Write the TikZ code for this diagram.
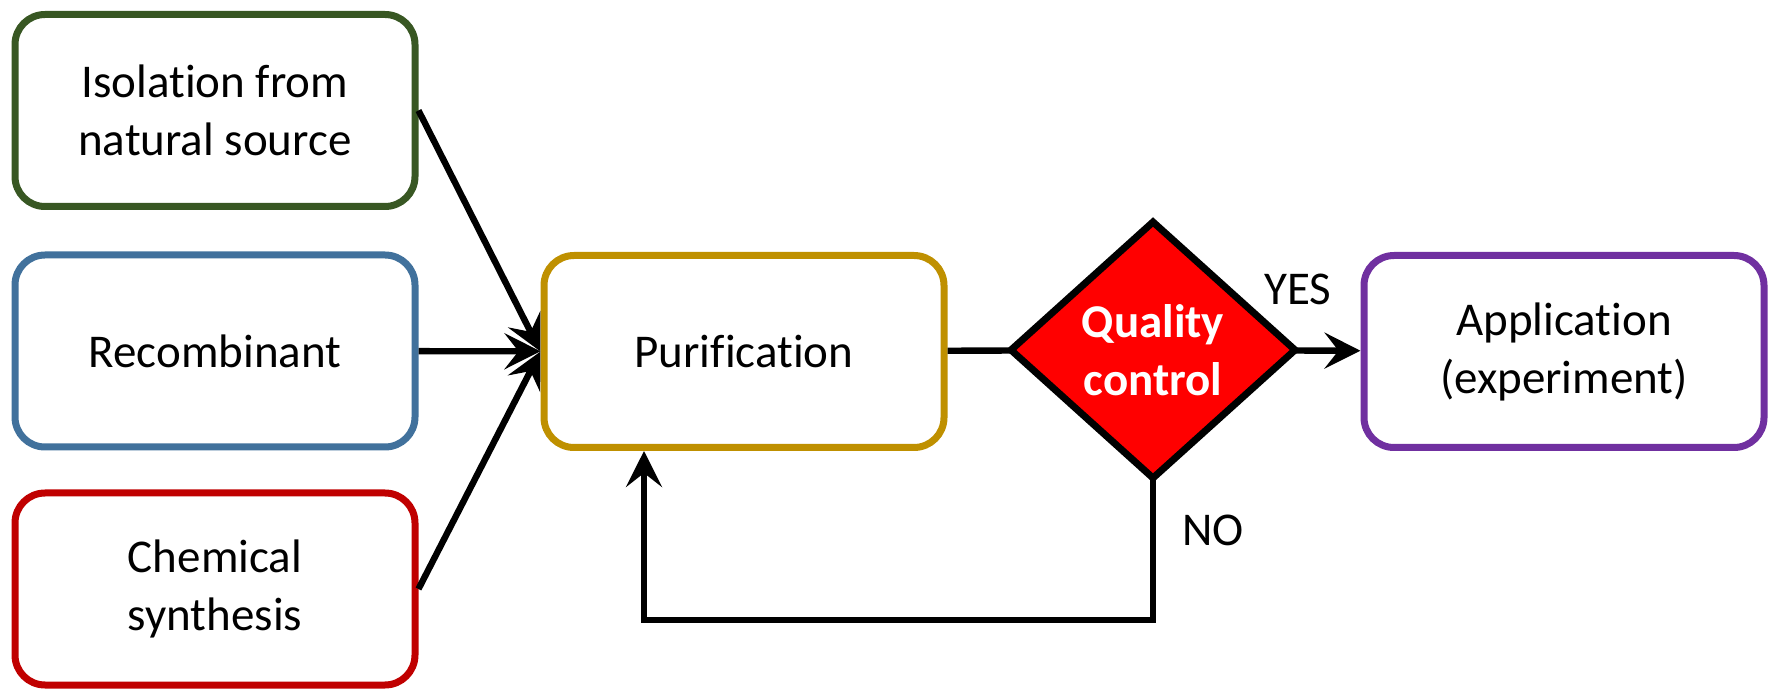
\documentclass[tikz,border=0pt]{standalone}
\usepackage{fontspec}
\setmainfont{Carlito}[Ligatures=NoCommon]
\usetikzlibrary{arrows.meta,positioning,shapes.geometric}
\definecolor{leaf}{RGB}{56,87,35}
\definecolor{steel}{RGB}{65,113,156}
\definecolor{brick}{RGB}{192,0,0}
\definecolor{ochre}{RGB}{191,144,0}
\definecolor{plum}{RGB}{112,48,160}
\definecolor{signal}{RGB}{255,0,0}
\tikzset{
  flow/.style={line width=3.2pt,black,-{Stealth[length=18pt,width=18pt,inset=7pt]}},
  joint/.style={line width=3.2pt,black},
  stage/.style={draw,line width=3.5pt,fill=white,rounded corners=15pt,
    minimum width=200pt,minimum height=96pt,align=center,
    font=\fontsize{23.5}{29}\selectfont},
  check/.style={diamond,draw=black,line width=3.5pt,fill=signal,
    minimum width=142pt,minimum height=128pt,inner sep=0pt,outer sep=0pt,
    aspect=1.1,align=center,text=white,
    font=\fontsize{23.5}{29}\selectfont\bfseries},
  tag/.style={font=\fontsize{23.5}{29}\selectfont}
}

\begin{document}
\begin{tikzpicture}[x=0.5pt,y=-0.5pt]
  \useasboundingbox (0,0) rectangle (1777,694);
  \node[stage,draw=leaf] (iso) at (215,110.5) {Isolation from\\natural source};
  \node[stage,draw=steel] (rec) at (215,351) {Recombinant};
  \node[stage,draw=brick] (chem) at (215,589) {Chemical\\synthesis};
  \node[stage,draw=ochre] (pur) at (744,351.5) {Purification};
  \node[check] (qc) at (1153,350) {Quality\\control};
  \node[stage,draw=plum] (app) at (1564,351.5) {Application\\(experiment)};
  \draw[flow] (iso.east) -- (pur.west);
  \draw[flow] (rec) -- (pur);
  \draw[flow] (chem.east) -- (pur.west);
  \draw[joint] (pur) -- (qc);
  \draw[flow] (qc) -- (app);
  \coordinate (back) at (644,620);
  \draw[flow] (qc.south) |- (back) -- (back |- pur.south);
  \node[tag] (yes) at (1298,289) {YES};
  \node[tag] (no) at (1213,530) {NO};
\end{tikzpicture}
\end{document}
